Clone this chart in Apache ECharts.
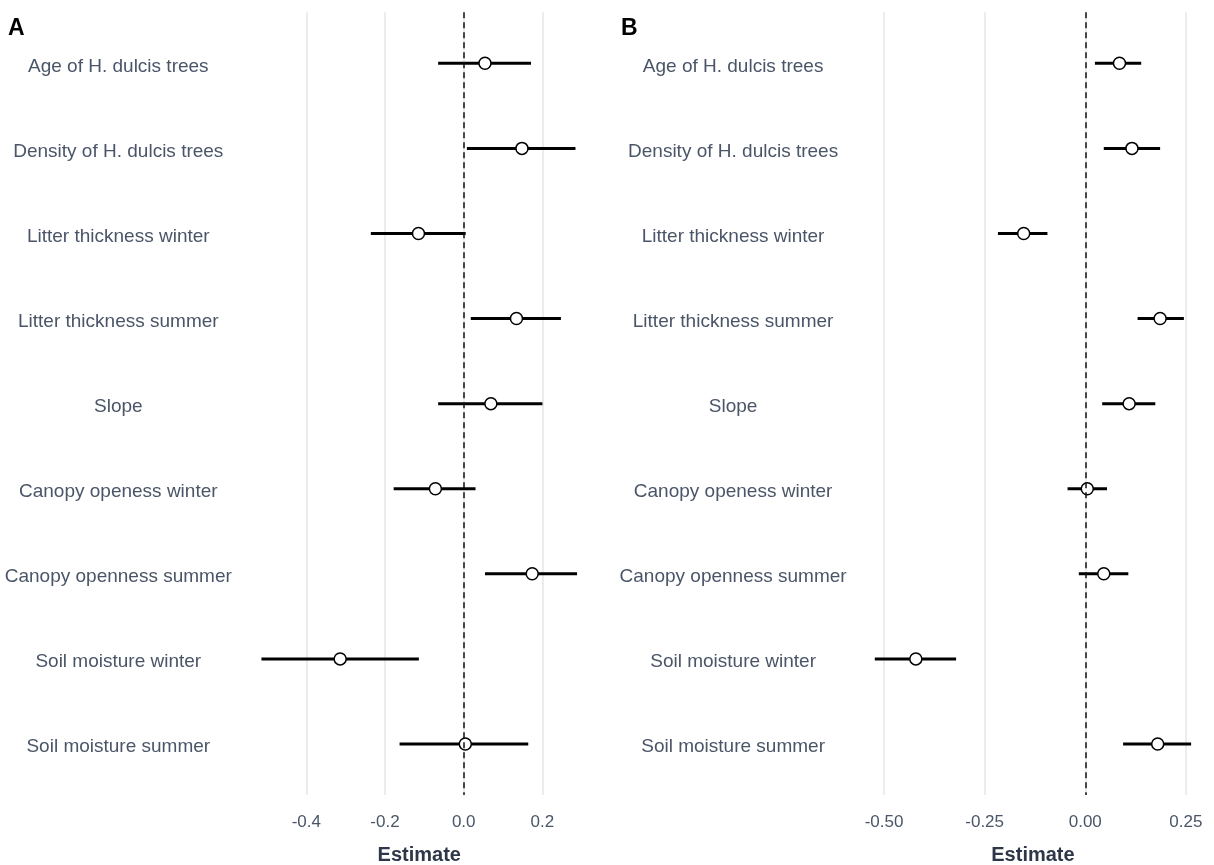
<!DOCTYPE html>
<html>
<head>
<meta charset="utf-8">
<script src="https://cdn.jsdelivr.net/npm/echarts@6/dist/echarts.min.js"></script>
<style>html,body{margin:0;padding:0;background:#fff;}#main{width:1214px;height:865px;}</style>
</head>
<body>
<div id="main"></div>
<script>
const categories = ["Age of H. dulcis trees","Density of H. dulcis trees","Litter thickness winter","Litter thickness summer","Slope","Canopy openess winter","Canopy openness summer","Soil moisture winter","Soil moisture summer"];

const estA = [0.054, 0.148, -0.115, 0.134, 0.069, -0.072, 0.174, -0.314, 0.004];
const lowA = [-0.065, 0.008, -0.236, 0.018, -0.065, -0.178, 0.054, -0.514, -0.163];
const highA = [0.171, 0.284, 0.005, 0.247, 0.200, 0.030, 0.288, -0.114, 0.164];

const estB = [0.085, 0.116, -0.153, 0.186, 0.109, 0.005, 0.046, -0.421, 0.180];
const lowB = [0.024, 0.046, -0.217, 0.130, 0.042, -0.044, -0.016, -0.523, 0.094];
const highB = [0.139, 0.186, -0.094, 0.245, 0.174, 0.054, 0.107, -0.321, 0.263];

const ticksA = [-0.4, -0.2, 0.0, 0.2];
const ticksB = [-0.5, -0.25, 0.0, 0.25];

const rowPos = categories.map((c, i) => i + 1);
const FONT = "'Liberation Sans', Arial, sans-serif";
const labelColor = '#4a5568';

function xAxisDef(idx, min, max, ticks, dec) {
  return {
    type: 'value', gridIndex: idx, min: min, max: max,
    name: 'Estimate', nameLocation: 'middle', nameGap: 50,
    nameTextStyle: { fontFamily: FONT, fontSize: 20, fontWeight: 'bold', color: '#2d3748' },
    axisLine: { show: false },
    axisTick: { show: false, customValues: ticks },
    axisLabel: { customValues: ticks, margin: 19, fontFamily: FONT, fontSize: 17, color: labelColor,
      formatter: v => v.toFixed(dec) },
    splitLine: { show: true, lineStyle: { color: '#e6e6e6', width: 1.5 } }
  };
}
function yAxisDef(idx, margin) {
  return {
    type: 'value', gridIndex: idx, inverse: true, min: 0.4, max: 9.6,
    axisLine: { show: false }, axisTick: { show: false, customValues: rowPos },
    splitLine: { show: false },
    axisLabel: { customValues: rowPos, align: 'center', margin: margin,
      fontFamily: FONT, fontSize: 19, color: labelColor, verticalAlign: 'top', lineHeight: 6,
      formatter: v => categories[Math.round(v) - 1] || '' }
  };
}
function errSeries(idx, lo, hi) {
  return {
    type: 'custom', xAxisIndex: idx, yAxisIndex: idx,
    data: lo.map((l, i) => [l, hi[i], rowPos[i]]),
    renderItem: function (params, api) {
      const a = api.coord([api.value(0), api.value(2)]);
      const b = api.coord([api.value(1), api.value(2)]);
      return { type: 'line', shape: { x1: a[0], y1: a[1], x2: b[0], y2: b[1] },
        style: { stroke: '#000', lineWidth: 3 } };
    },
    markLine: {
      silent: true, symbol: 'none', label: { show: false },
      lineStyle: { type: [6, 4], color: '#111', width: 1.5 },
      data: [{ xAxis: 0 }]
    },
    z: 2
  };
}
function ptSeries(idx, est) {
  return {
    type: 'scatter', xAxisIndex: idx, yAxisIndex: idx,
    data: est.map((e, i) => [e, rowPos[i]]),
    symbol: 'circle', symbolSize: 12,
    itemStyle: { color: '#fff', borderColor: '#000', borderWidth: 1.5, opacity: 1 },
    z: 3
  };
}

const chart = echarts.init(document.getElementById('main'), null, { renderer: 'canvas' });
chart.setOption({
  animation: false,
  backgroundColor: '#fff',
  grid: [
    { left: 245.7, top: 12.25, width: 347.1, height: 782.8, outerBoundsMode: 'none', containLabel: false },
    { left: 859.1, top: 12.25, width: 347.7, height: 782.8, outerBoundsMode: 'none', containLabel: false }
  ],
  xAxis: [xAxisDef(0, -0.554, 0.328, ticksA, 1), xAxisDef(1, -0.562, 0.302, ticksB, 2)],
  yAxis: [yAxisDef(0, 127.4), yAxisDef(1, 126)],
  series: [errSeries(0, lowA, highA), ptSeries(0, estA), errSeries(1, lowB, highB), ptSeries(1, estB)],
  graphic: [
    { type: 'text', x: 8, y: 29, style: { text: 'A', font: "bold 23px " + FONT, fill: '#000', verticalAlign: 'middle' } },
    { type: 'text', x: 621, y: 29, style: { text: 'B', font: "bold 23px " + FONT, fill: '#000', verticalAlign: 'middle' } }
  ]
});
</script>
</body>
</html>
